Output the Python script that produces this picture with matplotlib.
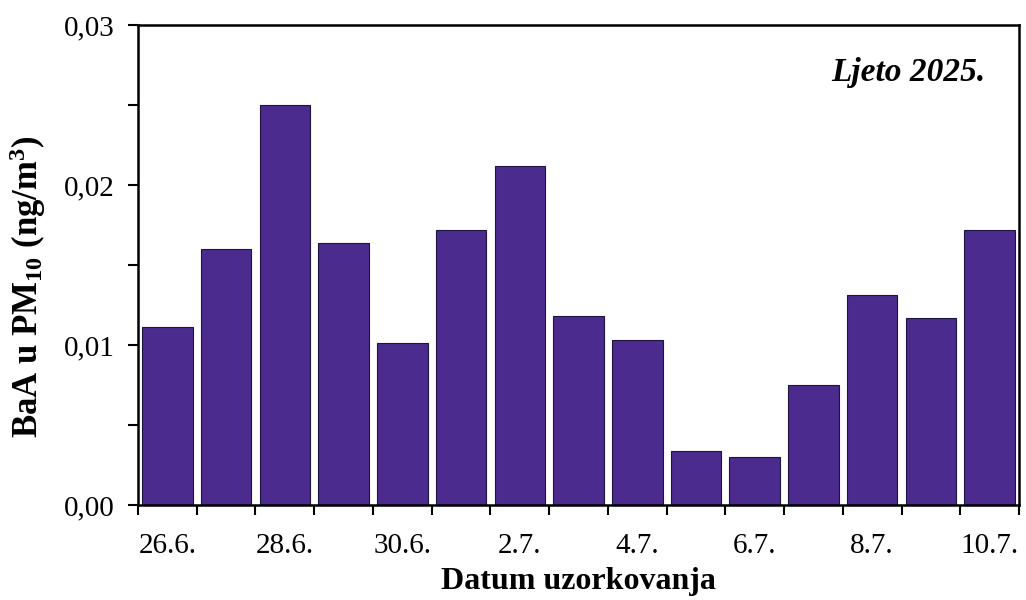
import numpy as np
import matplotlib
matplotlib.use("Agg")
import matplotlib.pyplot as plt
from matplotlib.ticker import FixedLocator, MultipleLocator

plt.rcParams["font.family"] = ["Liberation Serif", "DejaVu Serif"]
plt.rcParams["mathtext.fontset"] = "custom"
plt.rcParams["mathtext.rm"] = "Liberation Serif:bold"
plt.rcParams["mathtext.it"] = "Liberation Serif:bold:italic"
plt.rcParams["mathtext.bf"] = "Liberation Serif:bold"

# sampling dates and BaA concentrations (ng/m3)
dates = ["26.6.", "27.6.", "28.6.", "29.6.", "30.6.", "1.7.", "2.7.", "3.7.",
         "4.7.", "5.7.", "6.7.", "7.7.", "8.7.", "9.7.", "10.7."]
baa = [0.0111, 0.0160, 0.0250, 0.0164, 0.0101, 0.0172, 0.0212, 0.0118,
       0.0103, 0.0034, 0.0030, 0.0075, 0.0131, 0.0117, 0.0172]
y_ticks = [0.0, 0.01, 0.02, 0.03]
y_ticklabels = ["0,00", "0,01", "0,02", "0,03"]

BAR_COLOR = "#4b2b8d"

fig = plt.figure(figsize=(10.26, 6), dpi=100)
ax = fig.add_axes([0.1345, 0.1583, 0.8587, 0.80])

x = np.arange(len(dates))
ax.bar(x, baa, width=0.86, color=BAR_COLOR, edgecolor="#1e1440", linewidth=0.8)

ax.set_xlim(-0.5, len(dates) - 0.5)
ax.set_ylim(0, 0.03)

# labels under every other bar, ticks at bar boundaries
ax.xaxis.set_major_locator(FixedLocator(x[::2]))
ax.set_xticklabels([dates[i] for i in x[::2]])
ax.xaxis.set_minor_locator(FixedLocator(np.arange(-0.5, len(dates) - 0.4, 1.0)))
ax.tick_params(axis="x", which="major", length=0, pad=20, labelsize=21)
ax.tick_params(axis="x", which="minor", direction="out", length=7, width=1.5)

ax.yaxis.set_major_locator(FixedLocator(y_ticks))
ax.set_yticklabels(y_ticklabels)
ax.yaxis.set_minor_locator(MultipleLocator(0.005))
ax.tick_params(axis="y", which="both", direction="out", length=7, width=1.5,
               pad=10, labelsize=21)

for s in ax.spines.values():
    s.set_linewidth(1.8)

ax.set_xlabel("Datum uzorkovanja", fontsize=23, fontweight="bold")
ax.xaxis.label.set_va("center")
ax.xaxis.set_label_coords(0.5, -0.16)
ax.set_ylabel("BaA u PM$_{10}$ (ng/m$^3$)", fontsize=25, fontweight="bold")
ax.yaxis.label.set_va("center")
ax.yaxis.set_label_coords(-0.125, 0.456)

ax.text(0.9625, 0.902, "Ljeto 2025.", transform=ax.transAxes, ha="right",
        va="center", fontsize=24, fontweight="bold", fontstyle="italic")

fig.savefig("out.png", dpi=100)
